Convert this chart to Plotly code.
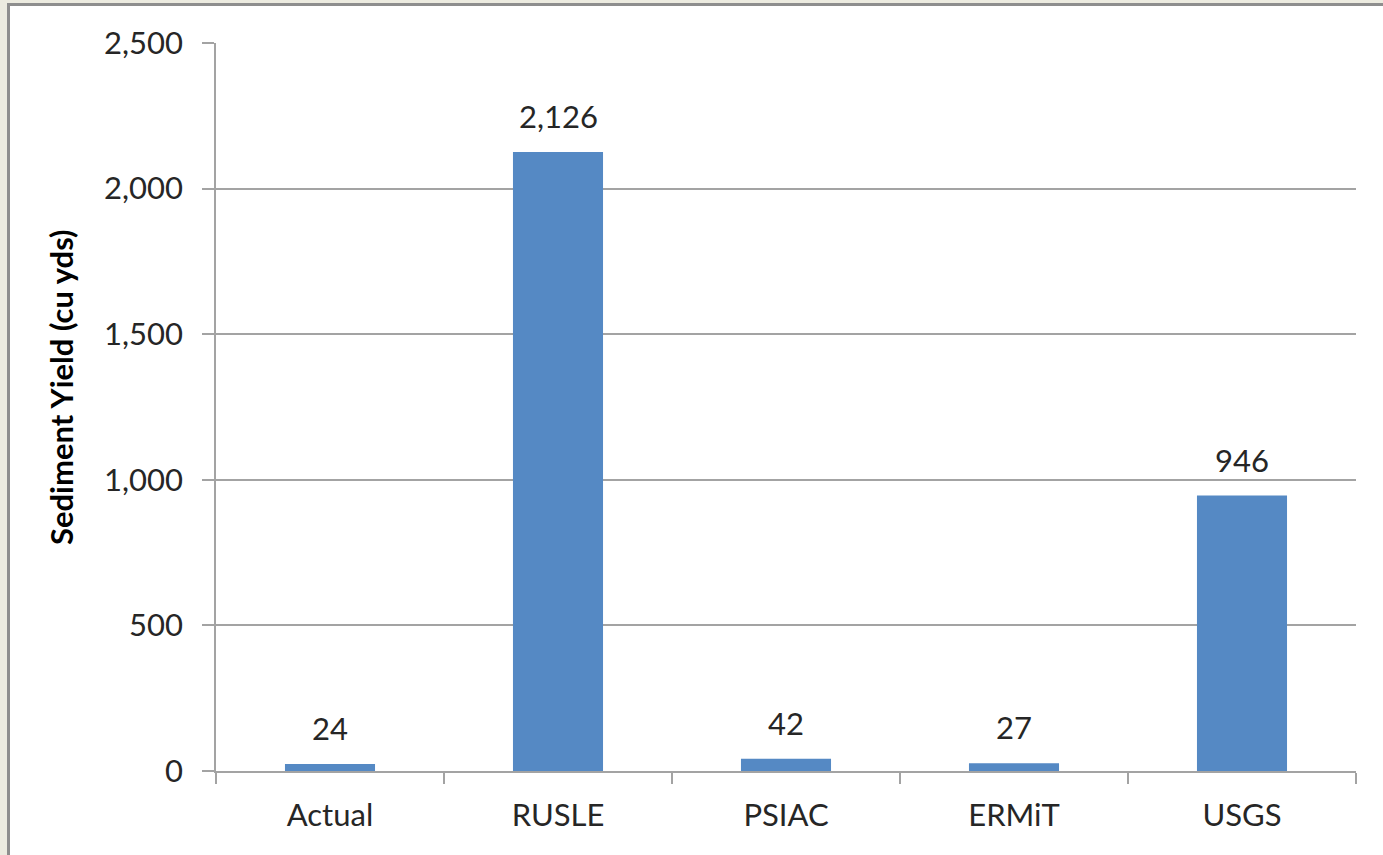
import plotly.graph_objects as go

categories = ["Actual", "RUSLE", "PSIAC", "ERMiT", "USGS"]
values = [24, 2126, 42, 27, 946]
y_ticks = [0, 500, 1000, 1500, 2000, 2500]
y_tick_labels = ["0", "500", "1,000", "1,500", "2,000", "2,500"]
y_title = "Sediment Yield (cu yds)"

W, H = 1383, 855
L, R, T, B = 216, 1356, 43, 771
pw, ph = R - L, B - T

def px(x):
    return (x - L) / pw

def py(y):
    return (B - y) / ph

FONT = "Lato"
GRID = "#a3a3a3"
BAR = "#5589c4"
FS = 31

fig = go.Figure()
fig.add_trace(go.Bar(
    x=categories, y=values, width=0.395,
    marker=dict(color=BAR, line=dict(width=0)),
    hoverinfo="skip",
))

for c, v in zip(categories, values):
    fig.add_annotation(
        x=c, y=v, xref="x", yref="y", text=f"{v:,}",
        showarrow=False, yanchor="bottom", yshift=15,
        font=dict(family=FONT, size=FS, color="#262626"),
    )

fig.add_annotation(
    x=px(61), y=py(387), xref="paper", yref="paper", text=f"<b>{y_title}</b>",
    textangle=-90, showarrow=False, xanchor="center", yanchor="middle",
    font=dict(family=FONT, size=31, color="#000000"),
)

# frame
fig.add_shape(type="rect", xref="paper", yref="paper",
              x0=px(8.5), x1=px(W + 20), y0=py(4.5), y1=py(H + 20),
              fillcolor="white", line=dict(color="#8e8e8e", width=3), layer="below")

fig.update_layout(
    width=W, height=H,
    margin=dict(l=L, r=W - R, t=T, b=H - B, pad=0),
    paper_bgcolor="#ecebe0", plot_bgcolor="rgba(0,0,0,0)",
    showlegend=False, bargap=0.605,
    font=dict(family=FONT, size=FS, color="#262626"),
    xaxis=dict(
        type="category", showline=True, linecolor=GRID, linewidth=1.5,
        ticks="outside", tickson="boundaries", ticklen=11, tickcolor=GRID, tickwidth=1.5,
        showgrid=False, tickfont=dict(family=FONT, size=FS, color="#262626"),
        ticklabelstandoff=16, fixedrange=True,
    ),
    yaxis=dict(
        range=[0, 2500], tickvals=y_ticks, ticktext=y_tick_labels,
        showline=True, linecolor=GRID, linewidth=1.5,
        ticks="outside", ticklen=12, tickcolor=GRID, tickwidth=1.5,
        showgrid=True, gridcolor=GRID, gridwidth=1.5, zeroline=False,
        tickfont=dict(family=FONT, size=FS, color="#262626"),
        ticklabelstandoff=13, fixedrange=True,
    ),
)

fig.write_html("out.html")
